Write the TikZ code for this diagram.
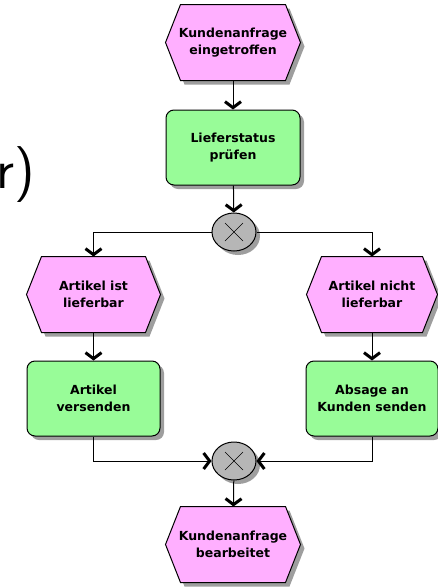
\documentclass[tikz,border=0pt]{standalone}
\usepackage{fontspec}
\newfontfamily\arisfont{DejaVu Sans}
\usetikzlibrary{shapes.geometric,shadows,arrows.meta,backgrounds}
\definecolor{eventpink}{RGB}{255,175,255}
\definecolor{funcgreen}{RGB}{152,252,152}
\definecolor{xorgray}{RGB}{182,182,182}
\tikzset{
  schatten/.style={drop shadow={shadow xshift=4pt, shadow yshift=-4pt, fill=black!38, opacity=1}},
  arisbase/.style={line width=1pt, align=center, inner sep=0pt,
    font=\arisfont\bfseries\fontsize{12.5}{17}\selectfont},
  ereignis/.style={arisbase, rectangle, minimum width=134pt, minimum height=75pt},
  hexrand/.style={draw, line width=1pt, fill=eventpink, schatten},
  funktion/.style={arisbase, draw, schatten, fill=funcgreen, rectangle, rounded corners=8pt,
    minimum width=134pt, minimum height=75pt},
  xorconn/.style={arisbase, draw, schatten, fill=xorgray, ellipse, minimum width=44pt, minimum height=38pt,
    path picture={\draw[line width=.6pt]
      (path picture bounding box.center) ++(-9pt,-9pt) -- ++(18pt,18pt)
      (path picture bounding box.center) ++(-9pt,9pt) -- ++(18pt,-18pt);}},
  fluss/.style={line width=1pt, -{Straight Barb[width=16pt,length=6pt,line width=3pt]}}
}
\begin{document}
\begin{tikzpicture}[x=1pt, y=-1pt]
  \useasboundingbox (0,0) rectangle (438,587);
  \node[anchor=base west, inner sep=0pt, font=\sffamily\fontsize{56}{60}\selectfont] (titel) at (-4,188) {r)};

  \node[ereignis] (anfrage) at (233,42.5) {Kundenanfrage\\eingetroffen};
  \node[funktion] (pruefen) at (233,147.5) {Lieferstatus\\prüfen};
  \node[xorconn] (xora) at (234,232) {};
  \node[ereignis, minimum width=133pt] (lieferbar) at (93.5,294.5) {Artikel ist\\lieferbar};
  \node[ereignis, minimum width=130pt] (nichtlieferbar) at (372,294.5) {Artikel nicht\\lieferbar};
  \node[funktion, minimum width=133pt] (versenden) at (93.5,398.5) {Artikel\\versenden};
  \node[funktion, minimum width=132pt] (absage) at (372,398.5) {Absage an\\Kunden senden};
  \node[xorconn] (xorb) at (234,461) {};
  \node[ereignis] (bearbeitet) at (233,544.5) {Kundenanfrage\\bearbeitet};

  \begin{scope}[on background layer]
    \foreach \e in {anfrage,lieferbar,nichtlieferbar,bearbeitet}
      \draw[hexrand] ([xshift=15pt]\e.north west) -- ([xshift=-15pt]\e.north east) -- (\e.east)
        -- ([xshift=-15pt]\e.south east) -- ([xshift=15pt]\e.south west) -- (\e.west) -- cycle;
  \end{scope}

  \draw[fluss] (anfrage) -- (pruefen);
  \draw[fluss] (pruefen) -- (xora);
  \draw[fluss] (xora.west) -| (lieferbar.north);
  \draw[fluss] (xora.east) -| (nichtlieferbar.north);
  \draw[fluss] (lieferbar) -- (versenden);
  \draw[fluss] (nichtlieferbar) -- (absage);
  \draw[fluss] (versenden.south) |- (xorb.west);
  \draw[fluss] (absage.south) |- (xorb.east);
  \draw[fluss] (xorb) -- (bearbeitet);
\end{tikzpicture}
\end{document}
